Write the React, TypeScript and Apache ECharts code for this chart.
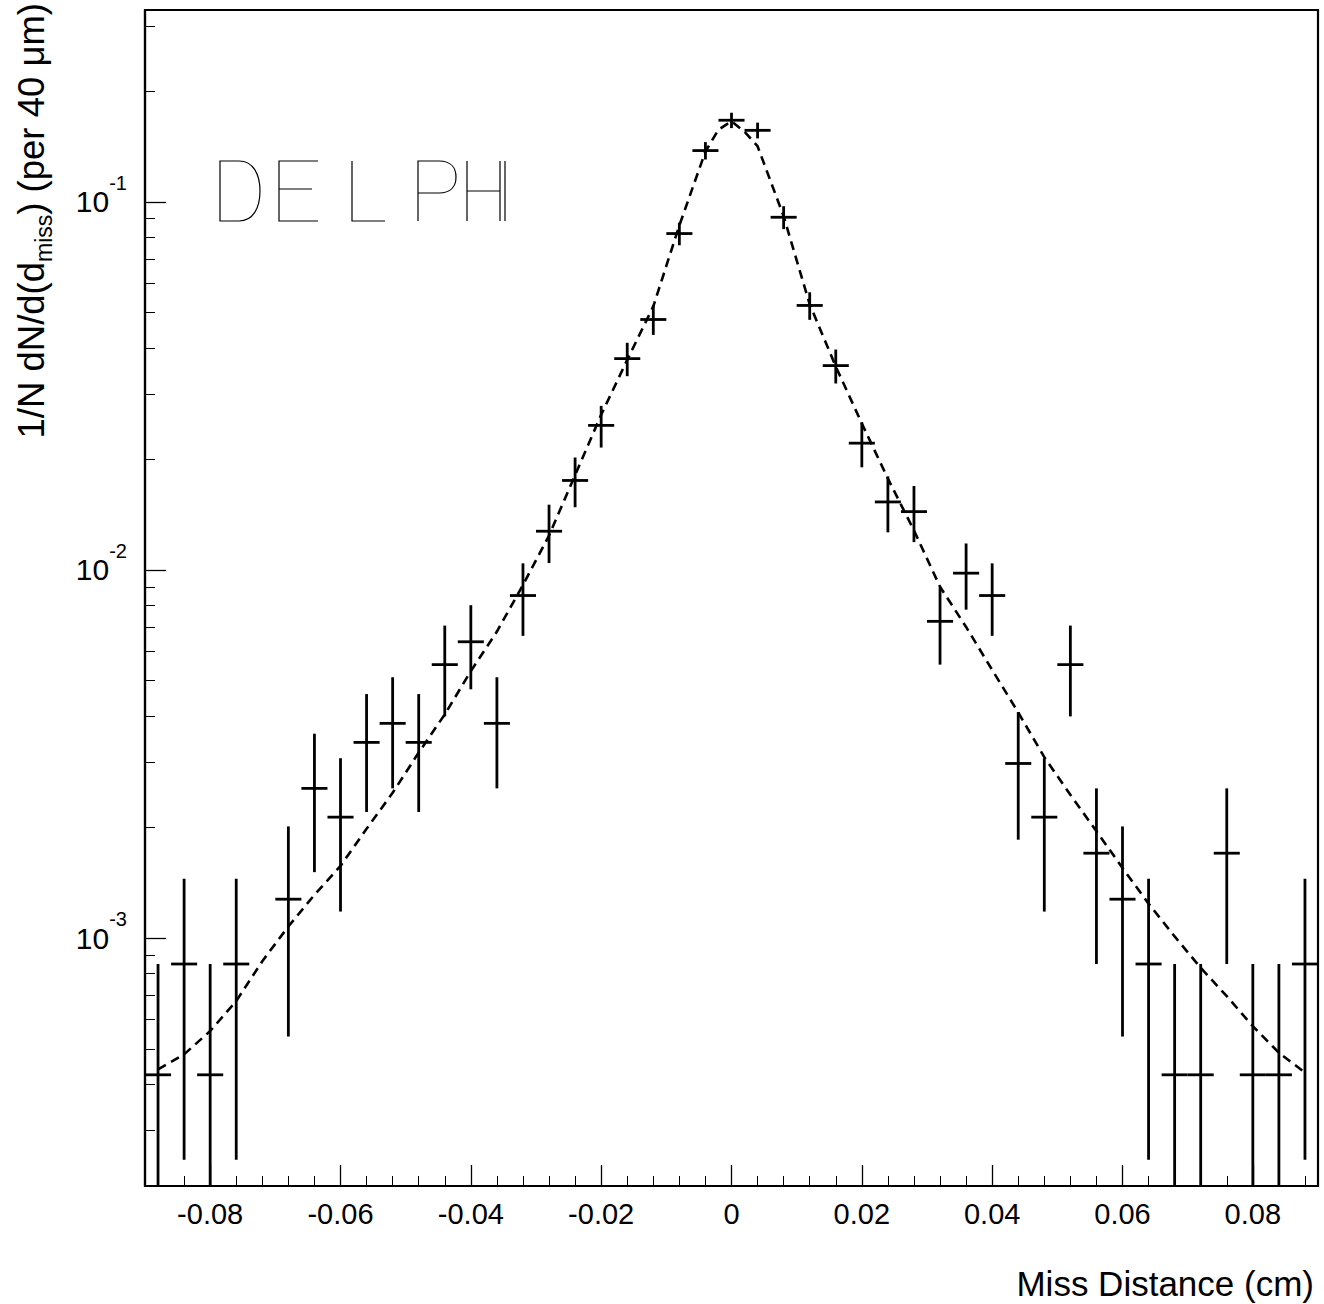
import React, { useEffect, useRef } from 'react';
import * as echarts from 'echarts';

// ---- data ----
const binCenters = [
  -0.088, -0.084, -0.08, -0.076, -0.072, -0.068, -0.064, -0.06, -0.056, -0.052,
  -0.048, -0.044, -0.04, -0.036, -0.032, -0.028, -0.024, -0.02, -0.016, -0.012,
  -0.008, -0.004, 0, 0.004, 0.008, 0.012, 0.016, 0.02, 0.024, 0.028,
  0.032, 0.036, 0.04, 0.044, 0.048, 0.052, 0.056, 0.06, 0.064, 0.068,
  0.072, 0.076, 0.08, 0.084, 0.088,
];
const binWidth = 0.004;
const values: (number | null)[] = [
  4.25e-4, 8.5e-4, 4.25e-4, 8.5e-4, null, 1.275e-3, 2.55e-3, 2.13e-3, 3.4e-3, 3.83e-3,
  3.4e-3, 5.53e-3, 6.38e-3, 3.83e-3, 8.52e-3, 0.01274, 0.0175, 0.0247, 0.0375, 0.0479,
  0.082, 0.1378, 0.1666, 0.1564, 0.0908, 0.0523, 0.0359, 0.0221, 0.0153, 0.0144,
  7.25e-3, 9.8e-3, 8.52e-3, 2.98e-3, 2.13e-3, 5.53e-3, 1.7e-3, 1.275e-3, 8.5e-4, 4.25e-4,
  4.25e-4, 1.7e-3, 4.25e-4, 4.25e-4, 8.5e-4,
];
const errors: (number | null)[] = [
  4.25e-4, 6.0e-4, 4.25e-4, 6.0e-4, null, 7.35e-4, 1.04e-3, 0.95e-3, 1.2e-3, 1.28e-3,
  1.2e-3, 1.53e-3, 1.64e-3, 1.28e-3, 1.9e-3, 2.3e-3, 2.7e-3, 3.2e-3, 3.9e-3, 4.4e-3,
  5.8e-3, 7.5e-3, 8.0e-3, 7.7e-3, 6.5e-3, 4.5e-3, 3.8e-3, 3.1e-3, 2.65e-3, 2.5e-3,
  1.72e-3, 2.0e-3, 1.9e-3, 1.13e-3, 0.95e-3, 1.53e-3, 0.85e-3, 0.735e-3, 6.0e-4, 4.25e-4,
  4.25e-4, 0.85e-3, 4.25e-4, 4.25e-4, 6.0e-4,
];
const fitX = [
  -0.088, -0.084, -0.08, -0.076, -0.072, -0.068, -0.064, -0.06, -0.056, -0.052,
  -0.048, -0.044, -0.04, -0.036, -0.032, -0.028, -0.024, -0.02, -0.016, -0.012,
  -0.008, -0.004, -0.002, 0, 0.002, 0.004, 0.008, 0.012, 0.016, 0.02, 0.024, 0.028,
  0.032, 0.036, 0.04, 0.044, 0.048, 0.052, 0.056, 0.06, 0.064, 0.068,
  0.072, 0.076, 0.08, 0.084, 0.088,
];
const fitY = [
  4.4e-4, 4.83e-4, 5.59e-4, 6.74e-4, 8.65e-4, 1.075e-3, 1.31e-3, 1.57e-3, 1.98e-3, 2.48e-3,
  3.19e-3, 4.05e-3, 5.31e-3, 6.8e-3, 9.1e-3, 0.0124, 0.0181, 0.0264, 0.0372, 0.052,
  0.0863, 0.137, 0.157, 0.1655, 0.155, 0.1416, 0.0914, 0.0527, 0.0357, 0.025, 0.0177, 0.0128,
  9.0e-3, 7.0e-3, 5.35e-3, 4.1e-3, 3.1e-3, 2.45e-3, 1.95e-3, 1.55e-3, 1.24e-3, 1.01e-3,
  8.3e-4, 6.95e-4, 5.76e-4, 4.88e-4, 4.31e-4,
];
const xRange = [-0.09, 0.09];
const yRange = [2.12e-4, 0.332];
const xMajorTicks = [-0.08, -0.06, -0.04, -0.02, 0, 0.02, 0.04, 0.06, 0.08];
const xTickLabels = ['-0.08', '-0.06', '-0.04', '-0.02', '0', '0.02', '0.04', '0.06', '0.08'];
const xMinorTicks = binCenters;
const yMajorTicks = [1e-3, 1e-2, 1e-1];
const yMinorTicks = [
  3e-4, 4e-4, 5e-4, 6e-4, 7e-4, 8e-4, 9e-4,
  2e-3, 3e-3, 4e-3, 5e-3, 6e-3, 7e-3, 8e-3, 9e-3,
  2e-2, 3e-2, 4e-2, 5e-2, 6e-2, 7e-2, 8e-2, 9e-2,
  2e-1, 3e-1,
];
const xTitle = 'Miss Distance (cm)';
const yTitleParts = ['1/N dN/d(d', 'miss', ') (per 40 μm)'];

const DELPHI_PATH =
  'M5 0 L5 60 L24 60 C38 60 45 47 45 30 C45 13 38 0 24 0 Z ' +
  'M103 0 L64 0 L64 60 L103 60 M64 28 L97 28 ' +
  'M137 0 L137 60 L170 60 ' +
  'M203 60 L203 0 L224 0 C236 0 241 7 241 16 C241 25 236 32 224 32 L203 32 ' +
  'M252 0 L252 60 M285 0 L285 60 M252 30 L285 30 ' +
  'M290 0 L290 60';

try {
  echarts.graphic.registerShape('delphiLogo', echarts.graphic.extendPath(DELPHI_PATH, {}));
} catch (e) {
  // ignore
}

const FONT = 'Liberation Sans';

export default function App() {
  const ref = useRef<HTMLDivElement>(null);
  useEffect(() => {
    if (!ref.current) return;
    const chart = echarts.init(ref.current, null, { renderer: 'svg' });
    const points: number[][] = [];
    binCenters.forEach((x, i) => {
      const v = values[i];
      const e = errors[i];
      if (v != null && e != null) points.push([x, v, e]);
    });
    const fitData = fitX.map((x, i) => [x, fitY[i]]);
    const tickLabelMap: Record<string, string> = {};
    xMajorTicks.forEach((t, i) => (tickLabelMap[t.toFixed(3)] = xTickLabels[i]));

    const option: any = {
      animation: false,
      backgroundColor: '#fff',
      textStyle: { fontFamily: FONT, color: '#000' },
      grid: {
        left: 145,
        top: 10,
        right: 6,
        bottom: 118,
        show: true,
        borderColor: '#000',
        borderWidth: 2.2,
        backgroundColor: 'transparent',
        containLabel: false,
        outerBoundsMode: 'none',
      },
      xAxis: [
        {
          type: 'value',
          min: xRange[0],
          max: xRange[1],
          position: 'bottom',
          axisLine: { show: true, onZero: false, lineStyle: { color: '#000', width: 2.2 } },
          splitLine: { show: false },
          axisTick: {
            show: true,
            inside: true,
            length: 21,
            customValues: xMajorTicks,
            lineStyle: { color: '#000', width: 1.3 },
          },
          axisLabel: {
            show: true,
            customValues: xMajorTicks,
            formatter: (v: number) => tickLabelMap[v.toFixed(3)] ?? String(v),
            fontSize: 29,
            fontFamily: FONT,
            color: '#000',
            margin: 13,
          },
        },
        {
          type: 'value',
          min: xRange[0],
          max: xRange[1],
          position: 'bottom',
          offset: 0,
          axisLine: { show: false, onZero: false },
          splitLine: { show: false },
          axisLabel: { show: false },
          axisTick: {
            show: true,
            inside: true,
            length: 10,
            customValues: xMinorTicks,
            lineStyle: { color: '#000', width: 1 },
          },
        },
      ],
      yAxis: [
        {
          type: 'log',
          min: yRange[0],
          max: yRange[1],
          position: 'left',
          axisLine: { show: true, onZero: false, lineStyle: { color: '#000', width: 2.2 } },
          splitLine: { show: false },
          axisTick: {
            show: true,
            inside: true,
            length: 21,
            customValues: yMajorTicks,
            lineStyle: { color: '#000', width: 1.3 },
          },
          axisLabel: {
            show: true,
            customValues: yMajorTicks,
            margin: 18,
            formatter: (v: number) => `{b|10}{s|${Math.round(Math.log10(v))}}`,
            rich: {
              b: { fontSize: 30, fontFamily: FONT, color: '#000', lineHeight: 58 },
              s: { fontSize: 20, fontFamily: FONT, color: '#000', verticalAlign: 'top', lineHeight: 58 },
            },
          },
        },
        {
          type: 'log',
          min: yRange[0],
          max: yRange[1],
          position: 'left',
          offset: 0,
          axisLine: { show: false, onZero: false },
          splitLine: { show: false },
          axisLabel: { show: false },
          axisTick: {
            show: true,
            inside: true,
            length: 10,
            customValues: yMinorTicks,
            lineStyle: { color: '#000', width: 1 },
          },
        },
      ],
      graphic: [
        {
          type: 'delphiLogo',
          x: 215,
          y: 161,
          silent: true,
          style: { fill: 'none', stroke: '#000', lineWidth: 1.2 },
          z: 10,
        },
        {
          type: 'text',
          x: 1314,
          y: 1283,
          style: {
            text: xTitle,
            fontSize: 35,
            fontFamily: FONT,
            fill: '#000',
            align: 'right',
            verticalAlign: 'middle',
          },
        },
        {
          type: 'text',
          x: 31,
          y: 3,
          rotation: Math.PI / 2,
          style: {
            text: `{a|${yTitleParts[0]}}{m|${yTitleParts[1]}}{a|${yTitleParts[2]}}`,
            align: 'right',
            verticalAlign: 'middle',
            rich: {
              a: { fontSize: 36.5, fontFamily: FONT, fill: '#000', lineHeight: 48 },
              m: { fontSize: 23, fontFamily: FONT, fill: '#000', lineHeight: 48, verticalAlign: 'bottom' },
            },
          },
        },
      ],
      series: [
        {
          type: 'line',
          name: 'fit',
          xAxisIndex: 0,
          yAxisIndex: 0,
          data: fitData,
          showSymbol: false,
          symbol: 'none',
          smooth: false,
          lineStyle: { color: '#000', width: 2.6, type: [9, 6] },
          z: 2,
        },
        {
          type: 'custom',
          name: 'data',
          xAxisIndex: 0,
          yAxisIndex: 0,
          data: points,
          encode: { x: 0, y: 1 },
          z: 3,
          renderItem: (params: any, api: any) => {
            const x = api.value(0);
            const v = api.value(1);
            const e = api.value(2);
            const cs = params.coordSys;
            const top = cs.y;
            const bottom = cs.y + cs.height;
            const c = api.coord([x, v]);
            const hi = Math.max(top, api.coord([x, v + e])[1]);
            const lo = v - e > yRange[0] ? api.coord([x, v - e])[1] : bottom;
            const xl = api.coord([x - binWidth / 2, v])[0];
            const xr = api.coord([x + binWidth / 2, v])[0];
            const st = { stroke: '#000', lineWidth: 2.8 };
            return {
              type: 'group',
              children: [
                { type: 'line', shape: { x1: c[0], y1: hi, x2: c[0], y2: lo }, style: st },
                { type: 'line', shape: { x1: xl, y1: c[1], x2: xr, y2: c[1] }, style: st },
              ],
            };
          },
        },
      ],
    };
    chart.setOption(option);
    return () => chart.dispose();
  }, []);
  return (
    <div
      ref={ref}
      style={{ position: 'absolute', left: 0, top: 0, width: 1324, height: 1304, background: '#fff' }}
    />
  );
}
